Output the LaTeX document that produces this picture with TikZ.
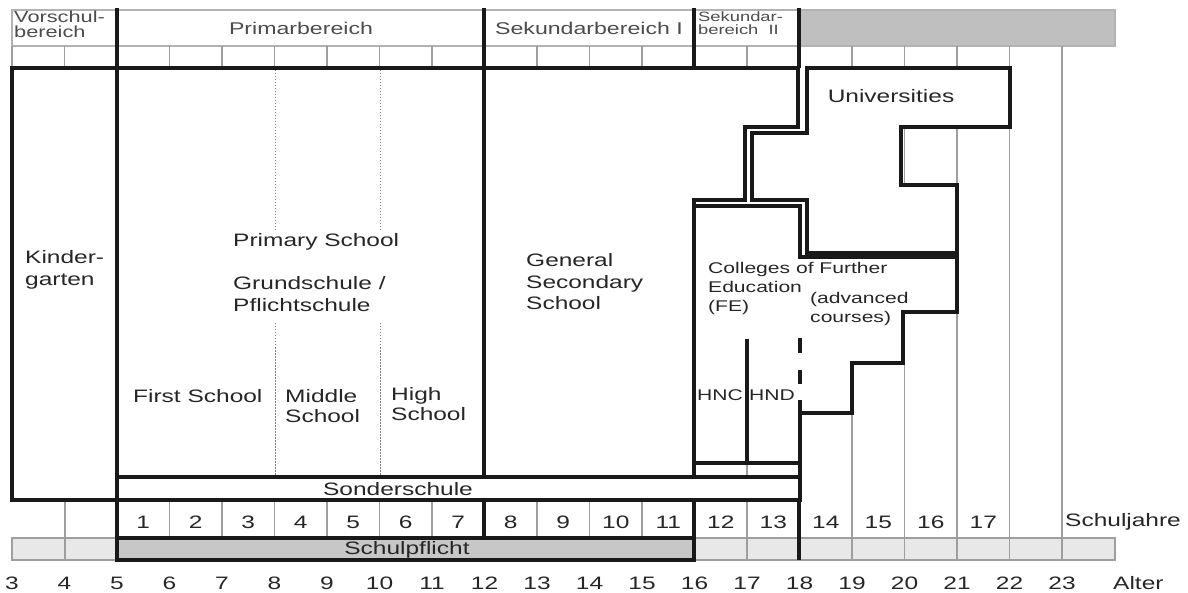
\documentclass[tikz,border=0pt]{standalone}
\usepackage{fontspec}
\setmainfont{Liberation Sans}[FakeStretch=1.36]
\begin{document}
\begin{tikzpicture}[x=1pt,y=-1pt,
  thickline/.style={line width=3.2pt, black!90, line join=miter},
  gridline/.style={line width=1.1pt, black!38},
  hdrbox/.style={draw=black!30, line width=1.6pt, fill=white},
  dotline/.style={line width=0.9pt, black!50, dash pattern=on 1.5pt off 1.5pt},
  txt/.style={inner sep=0pt, text=black!85, font=\fontsize{18}{22}\selectfont},
  txtl/.style={txt, anchor=west, align=left},
  hdr/.style={inner sep=0pt, text=black!70, font=\fontsize{17}{12}\selectfont},
  small/.style={txtl, font=\fontsize{15.5}{19}\selectfont},
]
\useasboundingbox (0,0) rectangle (1188,593);

% bottom light band
\draw[gridline, fill=black!9] (12,538) rectangle (1115,560);

% header boxes
\draw[hdrbox] (12,10) rectangle (117,46);
\draw[hdrbox] (117,10) rectangle (484,46);
\draw[hdrbox] (484,10) rectangle (694,46);
\draw[hdrbox] (694,10) rectangle (799,46);
\draw[hdrbox, fill=black!25] (799,10) rectangle (1115,46);
\draw[gridline] (12,46) -- (12,68);

% grid lines in the sub-header row
\foreach \a in {4,6,7,8,9,10,11,13,14,15,17}
  \draw[gridline] ({12+52.5*(\a-3)},46) -- ({12+52.5*(\a-3)},68);
% grid lines right of age 18
\foreach \a in {19,20,21,22,23}
  \draw[gridline] ({12+52.5*(\a-3)},46) -- ({12+52.5*(\a-3)},560);
% grid lines in the Schuljahre row
\foreach \a in {6,7,8,9,10,11,13,14,15}
  \draw[gridline] ({12+52.5*(\a-3)},500) -- ({12+52.5*(\a-3)},538);
\draw[gridline] (65,500) -- (65,560);
\draw[gridline] (747,463) -- (747,560);

% dotted dividers in primary school
\draw[dotline] (275,70) -- (275,230) (275,323) -- (275,476);
\draw[dotline] (380,70) -- (380,230) (380,323) -- (380,476);

% Kindergarten
\draw[thickline] (12,68) rectangle (117,500);
% main outline
\draw[thickline] (117,68) -- (798,68) -- (798,127) -- (745,127) -- (745,200) -- (694,200) -- (694,477);
\draw[thickline] (117,8) -- (117,560);
\draw[thickline] (484,8) -- (484,477);
\draw[thickline] (484,500) -- (484,538);
\draw[thickline] (694,8) -- (694,68);
\draw[thickline] (694,500) -- (694,538);
\draw[thickline] (799,8) -- (799,68);

% Universities
\draw[thickline, fill=white] (807,68) -- (1010,68) -- (1010,127) -- (901,127) -- (901,185)
  -- (957,185) -- (957,253) -- (807,253) -- (807,200) -- (752,200) -- (752,133) -- (807,133) -- cycle;

% Colleges / advanced courses
\fill[white] (800,257) -- (957,257) -- (957,312) -- (903,312) -- (903,363) -- (852,363) -- (852,413) -- (800,413) -- cycle;
\draw[thickline] (694,206) -- (800,206) -- (800,257) -- (957,257) -- (957,312) -- (903,312)
  -- (903,363) -- (852,363) -- (852,413) -- (800,413);
\draw[thickline] (800,338) -- (800,353) (800,370) -- (800,384) (800,400) -- (800,477);
\draw[thickline] (694,463) -- (800,463);
\draw[thickline] (747,339) -- (747,463);
\draw[thickline] (799,477) -- (799,560);

% Sonderschule
\draw[thickline, fill=white] (117,477) rectangle (800,500);
% Schulpflicht
\draw[thickline, fill=black!22] (117,538) rectangle (694,560);

% header texts
\node[hdr, anchor=north west, align=left, font=\fontsize{16}{14.5}\selectfont] (vor) at (14,11) {Vorschul-\\bereich};
\node[hdr] (prim) at (301,28) {Primarbereich};
\node[hdr] (sek1) at (589,28) {Sekundarbereich I};
\node[hdr, anchor=north west, align=left, font=\fontsize{13.5}{12.5}\selectfont] (sek2) at (698,12) {Sekundar-\\bereich\ \ II};

% body texts
\node[txtl] (kg) at (25,270) {Kinder-\\garten};
\node[txtl] (ps) at (233,242) {Primary School};
\node[txtl] (gs) at (233,294) {Grundschule /\\Pflichtschule};
\node[txtl] (fs) at (133,396) {First School};
\node[txtl, font=\fontsize{18}{20}\selectfont] (ms) at (285,406) {Middle\\School};
\node[txtl, font=\fontsize{18}{20}\selectfont] (hs) at (391,404) {High\\School};
\node[txtl, font=\fontsize{18}{21.5}\selectfont] (gss) at (526,282) {General\\Secondary\\School};
\node[txt] (uni) at (891,96) {Universities};
\node[small] (fe) at (708,288) {Colleges of Further\\Education\\(FE)};
\node[small] (adv) at (810,309) {(advanced\\courses)};
\node[txt, font=\fontsize{15.5}{19}\selectfont] (hnc) at (720,395) {HNC};
\node[txt, font=\fontsize{15.5}{19}\selectfont] (hnd) at (772,395) {HND};
\node[txt] (sonder) at (398,489) {Sonderschule};
\node[txt] (pflicht) at (407,550) {Schulpflicht};

\foreach \k in {1,...,17}
  \node[txt] (yr\k) at ({117+52.5*(\k-1)+26.25},522) {\k};
\node[txtl] (sj) at (1065,522) {Schuljahre};
\foreach \a in {3,...,23}
  \node[txt] (age\a) at ({12+52.5*(\a-3)},583) {\a};
\node[txtl] (alter) at (1113,583) {Alter};
\end{tikzpicture}
\end{document}
